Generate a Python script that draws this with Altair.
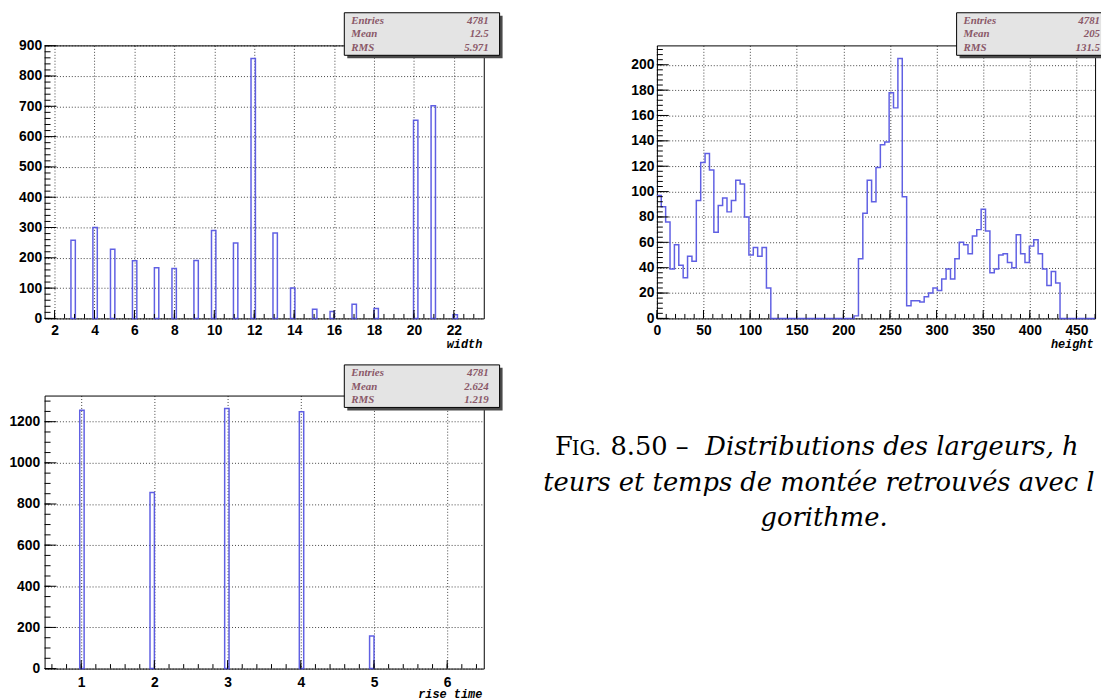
import altair as alt
import pandas as pd

# ---------------- data ----------------
# width histogram (100 bins on [1.5, 23.5]) : lower edge of each filled bin and its count
width_bin_lo = [2.82, 3.92, 4.80, 5.90, 7.00, 7.88, 8.98, 9.86, 10.96, 11.84,
                12.94, 13.82, 14.92, 15.80, 16.90, 18.00, 19.98, 20.86, 21.96]
width_counts = [258, 300, 228, 190, 167, 165, 191, 290, 249, 858,
                282, 100, 30, 23, 47, 33, 654, 702, 12]
width_bin_w = 0.22
width_xdomain = [1.5, 23.5]
width_ydomain = [0, 901]

# height histogram (100 bins of 4.7 on [0, 470])
height_bin_w = 4.7
height_counts = [97, 88, 76, 39, 58, 42, 32, 49, 45, 93,
                 123, 130, 117, 68, 89, 95, 84, 93, 109, 106,
                 80, 50, 56, 49, 56, 24, 0, 0, 0, 0,
                 0, 0, 0, 0, 0, 0, 0, 0, 0, 0,
                 0, 0, 0, 0, 0, 2, 47, 83, 109, 92,
                 119, 137, 139, 178, 166, 205, 96, 10, 14, 14,
                 13, 17, 20, 24, 22, 31, 39, 31, 47, 60,
                 58, 51, 65, 70, 86, 69, 36, 39, 50, 51,
                 44, 40, 66, 51, 44, 57, 62, 51, 39, 26,
                 37, 28, 0, 0, 0, 0, 0, 0, 0, 0]
height_xdomain = [0, 470]
height_ydomain = [0, 215.25]

# rise time histogram (100 bins on [0.5, 6.5])
rise_bin_lo = [0.98, 1.94, 2.96, 3.98, 4.94]
rise_counts = [1256, 856, 1264, 1248, 158]
rise_bin_w = 0.06
rise_xdomain = [0.5, 6.5]
rise_ydomain = [0, 1327]

# tick / label values
width_xlabels = [2, 4, 6, 8, 10, 12, 14, 16, 18, 20, 22]
width_ylabels = [0, 100, 200, 300, 400, 500, 600, 700, 800, 900]
height_xlabels = [0, 50, 100, 150, 200, 250, 300, 350, 400, 450]
height_ylabels = [0, 20, 40, 60, 80, 100, 120, 140, 160, 180, 200]
rise_xlabels = [1, 2, 3, 4, 5, 6]
rise_ylabels = [0, 200, 400, 600, 800, 1000, 1200]

width_xminor = [x / 2 for x in range(4, 47)]
width_yminor = list(range(0, 901, 20))
height_xminor = list(range(0, 471, 10))
height_yminor = list(range(0, 216, 4))
rise_xminor = [x / 5 for x in range(3, 33)]
rise_yminor = list(range(0, 1327, 50))

stat_names = ["Entries", "Mean", "RMS"]
width_stats = ["4781", "12.5", "5.971"]
height_stats = ["4781", "205", "131.5"]
rise_stats = ["4781", "2.624", "1.219"]

axis_titles = ["width", "height", "rise time"]

caption_fig_f = "F"
caption_fig_ig = "IG."
caption_fig_num = "8.50 \u2013"
caption_line1 = "Distributions des largeurs, h"
caption_line2 = "teurs et temps de mont\u00e9e retrouv\u00e9s avec l"
caption_line3 = "gorithme."

# ---------------- style ----------------
HIST_COLOR = "#4f4fe0"
STAT_COLOR = "#8a5868"
LABEL_FONT = "Liberation Sans"
TITLE_FONT = "Liberation Mono"
STAT_FONT = "Liberation Serif"
CAP_FONT = "DejaVu Serif"
CAP_SIZE = 26
one = pd.DataFrame({"k": [0]})


def panel(hist_layer, xs, ys, xlabels, ylabels, xminor, yminor, title, stats,
          w, h, box, bounds, xlabpad=5, ylabpad=3, box_right_border=True):
    xaxis = alt.Axis(values=xlabels, format="d", grid=True, gridColor="#000", gridDash=[1, 2],
                     gridOpacity=0.75, gridWidth=1, ticks=False, tickSize=0,
                     domain=False, labelFont=LABEL_FONT, labelFontWeight="bold",
                     labelFontSize=14, labelColor="#000", labelPadding=xlabpad,
                     labelFlush=False, labelOverlap=False, title=title,
                     titleFont=TITLE_FONT, titleFontStyle="italic", titleFontWeight="bold",
                     titleFontSize=12, titleColor="#000", titleX=w - 2, titleY=29,
                     titleAlign="right", titleBaseline="alphabetic", titleAnchor="end")
    yaxis = alt.Axis(values=ylabels, format="d", grid=True, gridColor="#000", gridDash=[1, 2],
                     gridOpacity=0.75, gridWidth=1, ticks=False, tickSize=0,
                     domain=False, labelFont=LABEL_FONT, labelFontWeight="bold",
                     labelFontSize=14, labelColor="#000", labelPadding=ylabpad,
                     labelFlush=False, labelOverlap=False, title=None)
    main = hist_layer(xaxis, yaxis)

    def xticks(vals, length):
        return alt.Chart(pd.DataFrame({"v": vals})).mark_rule(color="#000", strokeWidth=1).encode(
            x=alt.X("v:Q", scale=xs, axis=xaxis), y=alt.value(h), y2=alt.value(h - length))

    def yticks(vals, length):
        return alt.Chart(pd.DataFrame({"v": vals})).mark_rule(color="#000", strokeWidth=1).encode(
            y=alt.Y("v:Q", scale=ys, axis=yaxis), x=alt.value(0), x2=alt.value(length))

    bx1, by1, bx2, by2 = box
    shadow = alt.Chart(one).mark_rect(fill="#4a4a4a").encode(
        x=alt.value(bx1 + 3), x2=alt.value(bx2 + (3 if box_right_border else 0)),
        y=alt.value(by1 + 3), y2=alt.value(by2 + 3))
    boxfill = alt.Chart(one).mark_rect(fill="#e4e4e4").encode(
        x=alt.value(bx1), x2=alt.value(bx2), y=alt.value(by1), y2=alt.value(by2))
    edges = [(bx1, by1, bx2, by1), (bx1, by2, bx2, by2), (bx1, by1, bx1, by2)]
    if box_right_border:
        edges.append((bx2, by1, bx2, by2))
    borders = [alt.Chart(one).mark_rule(color="#000", strokeWidth=1).encode(
        x=alt.value(a), y=alt.value(b), x2=alt.value(c), y2=alt.value(d)) for a, b, c, d in edges]
    st = pd.DataFrame({"names": ["\n".join(stat_names)], "vals": ["\n".join(stats)]})
    names = alt.Chart(st).mark_text(font=STAT_FONT, fontStyle="italic", fontWeight="bold",
                                    fontSize=11, color=STAT_COLOR, align="left",
                                    baseline="alphabetic", lineBreak="\n", lineHeight=14).encode(
        x=alt.value(bx1 + 7), y=alt.value(by1 + 11), text="names:N")
    vals = alt.Chart(st).mark_text(font=STAT_FONT, fontStyle="italic", fontWeight="bold",
                                   fontSize=11, color=STAT_COLOR, align="right",
                                   baseline="alphabetic", lineBreak="\n", lineHeight=14).encode(
        x=alt.value(bx2 - 11 if box_right_border else bx2 - 1), y=alt.value(by1 + 11), text="vals:N")
    ex1, ey1, ex2, ey2 = bounds
    invisible = alt.Chart(one).mark_rect(opacity=0).encode(
        x=alt.value(ex1), x2=alt.value(ex2), y=alt.value(ey1), y2=alt.value(ey2))

    layers = [main, invisible,
              xticks(xminor, 4.5), xticks(xlabels, 8.5),
              yticks(yminor, 6), yticks(ylabels, 12),
              shadow, boxfill] + borders + [names, vals]
    return alt.layer(*layers).properties(width=w, height=h)


def rect_hist(lo, counts, bw, xs, ys):
    def f(xaxis, yaxis):
        df = pd.DataFrame({"lo": lo, "hi": [v + bw for v in lo], "n": counts})
        return alt.Chart(df).mark_rect(fillOpacity=0, stroke=HIST_COLOR, strokeWidth=1.5,
                                       strokeOpacity=0.9).encode(
            x=alt.X("lo:Q", scale=xs, axis=xaxis),
            x2="hi:Q",
            y=alt.Y("n:Q", scale=ys, axis=yaxis),
            y2=alt.datum(0))
    return f


def step_hist(counts, bw, xs, ys):
    def f(xaxis, yaxis):
        edges = [i * bw for i in range(len(counts) + 1)]
        df = pd.DataFrame({"e": edges, "n": counts + [counts[-1]]})
        return alt.Chart(df).mark_line(interpolate="step-after", color=HIST_COLOR,
                                       strokeWidth=1.5, opacity=0.9).encode(
            x=alt.X("e:Q", scale=xs, axis=xaxis),
            y=alt.Y("n:Q", scale=ys, axis=yaxis))
    return f


W, H = 444, 276

xs_a = alt.Scale(domain=width_xdomain, nice=False, zero=False)
ys_a = alt.Scale(domain=width_ydomain, nice=False, zero=False)
A = panel(rect_hist(width_bin_lo, width_counts, width_bin_w, xs_a, ys_a),
          xs_a, ys_a, width_xlabels, width_ylabels, width_xminor, width_yminor,
          axis_titles[0], width_stats, W, H,
          box=(303, -33, 460, 10), bounds=(-35, -33, 464, 309))

xs_b = alt.Scale(domain=height_xdomain, nice=False, zero=False)
ys_b = alt.Scale(domain=height_ydomain, nice=False, zero=False)
B = panel(step_hist(height_counts, height_bin_w, xs_b, ys_b),
          xs_b, ys_b, height_xlabels, height_ylabels, height_xminor, height_yminor,
          axis_titles[1], height_stats, 443, H,
          box=(303, -33, 449, 10), bounds=(-28, -33, 449, 309), box_right_border=False)

xs_c = alt.Scale(domain=rise_xdomain, nice=False, zero=False)
ys_c = alt.Scale(domain=rise_ydomain, nice=False, zero=False)
C = panel(rect_hist(rise_bin_lo, rise_counts, rise_bin_w, xs_c, ys_c),
          xs_c, ys_c, rise_xlabels, rise_ylabels, rise_xminor, rise_yminor,
          axis_titles[2], rise_stats, W, H,
          box=(303, -31, 460, 12), bounds=(-35, -31, 464, 30), xlabpad=7, ylabpad=5)

# caption panel
CW = 569


def cap_text(txt, x, y, size, italic, align="left"):
    return alt.Chart(one).mark_text(font=CAP_FONT, fontSize=size,
                                    fontStyle="italic" if italic else "normal",
                                    color="#000", align=align, baseline="alphabetic",
                                    clip=True).encode(
        x=alt.value(x), y=alt.value(y), text=alt.value(txt))


cap_bounds = alt.Chart(one).mark_rect(opacity=0).encode(
    x=alt.value(0), x2=alt.value(CW), y=alt.value(0), y2=alt.value(H))
caption = alt.layer(
    cap_bounds,
    cap_text(caption_fig_f, 18, 60, CAP_SIZE, False),
    cap_text(caption_fig_ig, 35, 60, 20, False),
    cap_text(caption_fig_num, 74, 60, CAP_SIZE, False),
    cap_text(caption_line1, 170, 60, CAP_SIZE, True),
    cap_text(caption_line2, 6, 96, CAP_SIZE, True),
    cap_text(caption_line3, 290, 132, CAP_SIZE, True, align="center"),
).properties(width=CW, height=H, view=alt.ViewBackground(strokeOpacity=0))

row1 = alt.hconcat(A, B, spacing=125)
row2 = alt.hconcat(C, caption, spacing=33)
chart = alt.vconcat(row1, row2, spacing=12).properties(padding=0).configure_view(
    stroke="#000", strokeWidth=1)

chart.save("out.html", embed_options={"renderer": "svg", "actions": False})
